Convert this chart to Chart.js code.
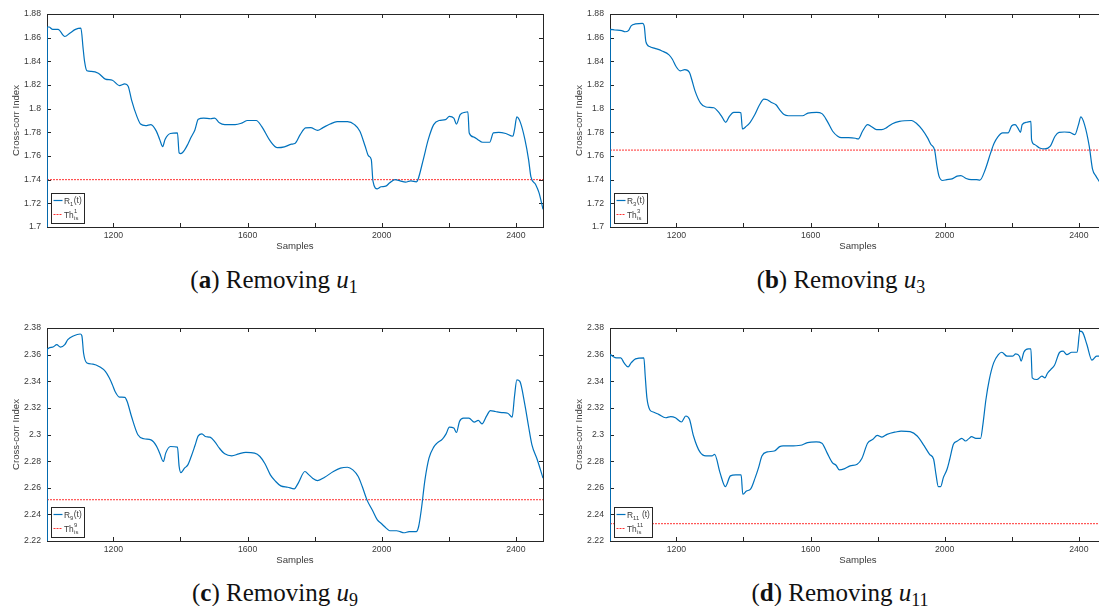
<!DOCTYPE html>
<html>
<head>
<meta charset="utf-8">
<script src="https://cdn.jsdelivr.net/npm/chart.js@4.4.1/dist/chart.umd.min.js"></script>
<style>
html, body { margin:0; padding:0; background:#fff; overflow:hidden; width:1099px; height:606px; }
.panel { position:absolute; }
.cap { position:absolute; font-family:"Liberation Serif", serif; font-size:25px; line-height:25px; color:#111; white-space:nowrap; transform:translateX(-50%); }
.cap sub { font-size:0.72em; vertical-align:-0.28em; line-height:0; }
</style>
</head>
<body>
<canvas id="chartA" class="panel" width="560" height="253" style="left:0px;top:0px"></canvas>
<canvas id="chartB" class="panel" width="560" height="253" style="left:563px;top:0px"></canvas>
<canvas id="chartC" class="panel" width="560" height="253" style="left:0px;top:314px"></canvas>
<canvas id="chartD" class="panel" width="560" height="253" style="left:563px;top:314px"></canvas>

<div class="cap" style="left:274px;top:267px">(<b>a</b>) Removing <i>u</i><sub>1</sub></div>
<div class="cap" style="left:841px;top:267px">(<b>b</b>) Removing <i>u</i><sub>3</sub></div>
<div class="cap" style="left:275px;top:580px">(<b>c</b>) Removing <i>u</i><sub>9</sub></div>
<div class="cap" style="left:840px;top:580px">(<b>d</b>) Removing <i>u</i><sub>11</sub></div>

<script>
// sample window shown on every x axis
const sampleMin = 1002;
const sampleMax = 2481;
const sampleLabels = [1200, 1600, 2000, 2400];

// cross-corr index R_k(t) as [sample, value]
const corrU1 = [[1002,0],[1003,1.869],[1008,1.869],[1019,1.867],[1035,1.867],[1055,1.861],[1071,1.864],[1087,1.867],[1103,1.868],[1110,1.850],[1114,1.840],[1121,1.832],[1134,1.8315],[1155,1.830],[1176,1.825],[1197,1.824],[1218,1.8195],[1234,1.821],[1244,1.819],[1254,1.8075],[1270,1.7935],[1281,1.787],[1296,1.7856],[1312,1.7865],[1328,1.781],[1338,1.774],[1347,1.768],[1354,1.774],[1370,1.779],[1391,1.7795],[1396,1.7626],[1401,1.762],[1412,1.765],[1422,1.770],[1432,1.776],[1443,1.782],[1453,1.791],[1469,1.792],[1490,1.7915],[1502,1.792],[1516,1.788],[1532,1.7865],[1563,1.7865],[1584,1.788],[1600,1.790],[1626,1.790],[1642,1.785],[1668,1.7725],[1689,1.767],[1710,1.7677],[1731,1.770],[1741,1.7705],[1757,1.778],[1773,1.7837],[1788,1.784],[1809,1.7817],[1825,1.784],[1846,1.787],[1867,1.789],[1898,1.789],[1919,1.7865],[1935,1.781],[1951,1.768],[1961,1.760],[1969,1.757],[1974,1.7388],[1987,1.7323],[1998,1.734],[2012,1.7345],[2024,1.7373],[2040,1.740],[2055,1.739],[2071,1.7379],[2087,1.739],[2103,1.7382],[2108,1.740],[2124,1.757],[2139,1.774],[2155,1.7865],[2171,1.790],[2190,1.7907],[2202,1.7935],[2215,1.792],[2223,1.787],[2234,1.795],[2249,1.797],[2257,1.7974],[2261,1.7795],[2275,1.776],[2286,1.774],[2301,1.7716],[2322,1.7716],[2333,1.7795],[2349,1.780],[2370,1.779],[2391,1.7767],[2396,1.782],[2403,1.793],[2414,1.788],[2427,1.774],[2438,1.757],[2445,1.7424],[2459,1.736],[2469,1.729],[2481,1.715]];
const corrU3 = [[1002,0],[1003,1.867],[1016,1.8665],[1037,1.866],[1047,1.865],[1057,1.866],[1065,1.870],[1078,1.8716],[1099,1.872],[1104,1.870],[1109,1.8567],[1120,1.8525],[1136,1.851],[1157,1.8488],[1178,1.8455],[1188,1.8418],[1199,1.8356],[1211,1.832],[1225,1.833],[1239,1.8306],[1246,1.8244],[1256,1.8146],[1272,1.8047],[1288,1.8014],[1312,1.8008],[1324,1.7977],[1335,1.7935],[1347,1.7885],[1358,1.7935],[1371,1.7969],[1387,1.7969],[1392,1.7965],[1397,1.7828],[1408,1.785],[1420,1.7885],[1434,1.795],[1448,1.8033],[1461,1.808],[1471,1.8075],[1481,1.8056],[1497,1.8033],[1508,1.799],[1521,1.795],[1534,1.794],[1555,1.794],[1576,1.794],[1592,1.7963],[1618,1.7969],[1634,1.7958],[1650,1.7893],[1666,1.7809],[1681,1.7767],[1692,1.7755],[1713,1.7755],[1734,1.775],[1742,1.7744],[1755,1.7809],[1770,1.7865],[1781,1.785],[1797,1.7823],[1812,1.7823],[1828,1.7842],[1844,1.7873],[1865,1.7893],[1901,1.790],[1917,1.7873],[1933,1.7823],[1949,1.7753],[1959,1.7697],[1970,1.765],[1977,1.7514],[1983,1.743],[1994,1.7393],[2006,1.740],[2022,1.7407],[2037,1.743],[2048,1.7435],[2064,1.741],[2079,1.740],[2095,1.740],[2105,1.7396],[2121,1.7486],[2137,1.7626],[2147,1.7705],[2158,1.776],[2173,1.7795],[2189,1.7795],[2200,1.7856],[2210,1.7865],[2218,1.7837],[2226,1.780],[2231,1.7865],[2245,1.7885],[2257,1.7893],[2259,1.7739],[2268,1.7697],[2283,1.7668],[2299,1.766],[2315,1.7683],[2329,1.7767],[2341,1.780],[2357,1.7803],[2373,1.780],[2388,1.778],[2399,1.7865],[2406,1.793],[2417,1.7865],[2431,1.7683],[2441,1.7486],[2451,1.743],[2462,1.738],[2472,1.733],[2481,1.728]];
const corrU9 = [[1002,0],[1003,2.3642],[1019,2.3657],[1031,2.3675],[1042,2.3657],[1055,2.3675],[1064,2.3712],[1082,2.3742],[1101,2.3755],[1106,2.3742],[1111,2.3612],[1121,2.3537],[1139,2.3529],[1160,2.3507],[1176,2.3474],[1188,2.3424],[1197,2.3374],[1205,2.3323],[1218,2.3281],[1234,2.3279],[1241,2.3248],[1254,2.3135],[1273,2.2998],[1291,2.2968],[1312,2.296],[1328,2.2915],[1338,2.286],[1349,2.2797],[1356,2.286],[1370,2.291],[1391,2.2905],[1396,2.276],[1401,2.2714],[1412,2.2747],[1422,2.2772],[1432,2.2835],[1443,2.2915],[1453,2.299],[1464,2.3005],[1474,2.2985],[1488,2.298],[1502,2.2947],[1516,2.2897],[1532,2.2855],[1553,2.284],[1574,2.2855],[1595,2.2865],[1621,2.286],[1637,2.2835],[1652,2.278],[1668,2.2697],[1684,2.2647],[1699,2.2614],[1720,2.2604],[1739,2.2592],[1752,2.2639],[1771,2.2722],[1783,2.2697],[1794,2.2672],[1809,2.2654],[1830,2.2679],[1856,2.2722],[1877,2.2747],[1898,2.2754],[1914,2.2734],[1930,2.2684],[1942,2.2609],[1956,2.2509],[1972,2.2433],[1987,2.2358],[1998,2.2333],[2014,2.2295],[2024,2.2277],[2045,2.2277],[2055,2.227],[2066,2.2262],[2082,2.227],[2103,2.227],[2110,2.2307],[2118,2.2433],[2129,2.2659],[2141,2.2822],[2155,2.2905],[2165,2.2935],[2181,2.2965],[2192,2.3005],[2202,2.3055],[2215,2.3048],[2223,2.3015],[2232,2.3098],[2244,2.3123],[2260,2.3123],[2276,2.3093],[2288,2.3106],[2299,2.308],[2313,2.314],[2324,2.318],[2339,2.3173],[2358,2.3165],[2376,2.316],[2389,2.313],[2396,2.3286],[2403,2.3411],[2412,2.3399],[2427,2.3223],[2438,2.306],[2448,2.2922],[2464,2.281],[2481,2.2672]];
const corrU11 = [[1002,0],[1003,2.36],[1010,2.3588],[1021,2.3576],[1034,2.3576],[1044,2.3538],[1056,2.3508],[1065,2.3538],[1078,2.3568],[1103,2.3576],[1107,2.3439],[1112,2.3277],[1121,2.3184],[1131,2.3169],[1147,2.3151],[1168,2.3126],[1183,2.3134],[1197,2.3126],[1215,2.3094],[1228,2.3139],[1239,2.3114],[1251,2.2989],[1270,2.2869],[1288,2.2839],[1306,2.2839],[1314,2.2851],[1330,2.2714],[1346,2.2609],[1361,2.2689],[1377,2.2696],[1393,2.2696],[1398,2.2551],[1409,2.2576],[1421,2.2589],[1435,2.2676],[1445,2.2751],[1455,2.2839],[1471,2.2869],[1492,2.2876],[1508,2.2909],[1518,2.2914],[1539,2.2914],[1570,2.2919],[1591,2.2939],[1617,2.2944],[1634,2.2934],[1649,2.2864],[1665,2.2789],[1676,2.2769],[1686,2.2734],[1702,2.2744],[1718,2.2764],[1739,2.2776],[1753,2.2819],[1770,2.2934],[1786,2.2964],[1799,2.2994],[1813,2.2981],[1828,2.3001],[1854,2.3019],[1870,2.3026],[1897,2.3021],[1918,2.2989],[1939,2.2914],[1955,2.2851],[1967,2.2814],[1974,2.2701],[1981,2.2609],[1988,2.2609],[1996,2.2676],[2007,2.2739],[2015,2.2814],[2026,2.2926],[2038,2.2951],[2051,2.2971],[2062,2.2951],[2072,2.2969],[2080,2.2984],[2093,2.2971],[2107,2.2971],[2114,2.3076],[2123,2.3263],[2133,2.3413],[2146,2.3538],[2160,2.36],[2170,2.3618],[2186,2.3588],[2202,2.3588],[2212,2.3605],[2223,2.3588],[2228,2.3551],[2236,2.3618],[2249,2.3643],[2257,2.3643],[2261,2.3426],[2275,2.3413],[2290,2.3438],[2299,2.3426],[2306,2.3458],[2316,2.3488],[2327,2.3518],[2343,2.3618],[2353,2.3626],[2364,2.36],[2379,2.3618],[2395,2.3618],[2403,2.3776],[2411,2.3768],[2424,2.3676],[2439,2.3558],[2453,2.3588],[2463,2.3588],[2481,2.358]];

// thresholds Th_is^k
const thU1 = 1.740;
const thU3 = 1.765;
const thU9 = 2.251;
const thU11 = 2.233;

// y ranges
const yRangeTop = [1.70, 1.88];
const yRangeBottom = [2.22, 2.38];

const axisColor = '#262626';
const textColor = '#3a3a3a';
const fontFam = '"Liberation Sans", Arial, sans-serif';

// matlab style box, inward ticks and the small legend
const matlabBox = {
  id: 'matlabBox',
  beforeDatasetsDraw(chart) {
    const ctx = chart.ctx, a = chart.chartArea;
    const xs = chart.scales.x, ys = chart.scales.y;
    ctx.save();
    ctx.strokeStyle = axisColor;
    ctx.lineWidth = 1;
    ctx.beginPath();
    xs.ticks.forEach(function (t) {
      const px = Math.round(xs.getPixelForValue(t.value)) + 0.5;
      ctx.moveTo(px, a.bottom); ctx.lineTo(px, a.bottom - 4);
      ctx.moveTo(px, a.top); ctx.lineTo(px, a.top + 4);
    });
    ys.ticks.forEach(function (t) {
      const py = Math.round(ys.getPixelForValue(t.value)) + 0.5;
      ctx.moveTo(a.left, py); ctx.lineTo(a.left + 4, py);
      ctx.moveTo(a.right, py); ctx.lineTo(a.right - 4, py);
    });
    ctx.stroke();
    ctx.strokeRect(Math.round(a.left) + 0.5, Math.round(a.top) + 0.5,
      Math.round(a.right - a.left), Math.round(a.bottom - a.top));
    ctx.restore();
  },
  afterDraw(chart, args, opts) {
    const ctx = chart.ctx, a = chart.chartArea;
    const big = '8.4px ' + fontFam, small = '5.9px ' + fontFam;
    ctx.save();
    ctx.font = big;
    const wR = ctx.measureText('R').width, wT = ctx.measureText(opts.after).width;
    const wTh = ctx.measureText('Th').width;
    ctx.font = small;
    const wSub = ctx.measureText(opts.sub).width;
    const wSup = Math.max(ctx.measureText(opts.sup).width, ctx.measureText('is').width);
    const textW = Math.max(wR + wSub + wT + 0.5, wTh + wSup);
    const w = Math.round(12.5 + textW + 3), h = 30;
    const left = Math.round(a.left) + 4.5, top = Math.round(a.bottom - 4.5 - h) + 0.5;
    ctx.fillStyle = '#fff';
    ctx.fillRect(left, top, w, h);
    ctx.strokeStyle = axisColor;
    ctx.lineWidth = 1;
    ctx.strokeRect(left, top, w, h);

    const row1 = top + 7, row2 = top + 21;
    ctx.lineWidth = 1.2;
    ctx.strokeStyle = '#0072bd';
    ctx.beginPath(); ctx.moveTo(left + 2, row1); ctx.lineTo(left + 11, row1); ctx.stroke();
    ctx.lineWidth = 1;
    ctx.strokeStyle = '#ff3030';
    ctx.setLineDash([2, 1]);
    ctx.beginPath(); ctx.moveTo(left + 2, row2); ctx.lineTo(left + 11, row2); ctx.stroke();
    ctx.setLineDash([]);

    ctx.fillStyle = textColor;
    ctx.textBaseline = 'alphabetic';
    let tx = left + 12.5;
    ctx.font = big;
    ctx.fillText('R', tx, row1 + 3);
    ctx.font = small;
    ctx.fillText(opts.sub, tx + wR, row1 + 5);
    ctx.font = big;
    ctx.fillText(opts.after, tx + wR + wSub + 0.5, row1 + 2.8);
    ctx.fillText('Th', tx, row2 + 3);
    ctx.font = small;
    ctx.fillText(opts.sup, tx + wTh + 0.3, row2 - 1.3);
    ctx.fillText('is', tx + wTh + 0.3, row2 + 5.2);
    ctx.restore();
  }
};

function makeChart(id, points, th, yRange, sub, after) {
  return new Chart(document.getElementById(id), {
    type: 'line',
    data: {
      datasets: [
        {
          data: points.map(function (p) { return { x: p[0], y: p[1] }; }),
          borderColor: '#0072bd',
          borderWidth: 1.2,
          pointRadius: 0,
          cubicInterpolationMode: 'monotone'
        },
        {
          data: [{ x: sampleMin, y: th }, { x: sampleMax, y: th }],
          borderColor: '#ff3030',
          borderWidth: 1,
          borderDash: [2, 1],
          pointRadius: 0
        }
      ]
    },
    options: {
      responsive: false,
      animation: false,
      devicePixelRatio: 1,
      layout: { padding: { left: 0, top: 14, right: 17, bottom: 0 } },
      plugins: {
        legend: { display: false },
        tooltip: { enabled: false },
        matlabBox: { sub: sub, sup: sub, after: after }
      },
      scales: {
        x: {
          type: 'linear',
          min: sampleMin,
          max: sampleMax,
          afterFit: function (s) { s.height = 26; },
          afterBuildTicks: function (s) {
            s.ticks = s.ticks.filter(function (t) { return t.value % 200 === 0; });
          },
          grid: { display: false, drawTicks: false },
          border: { display: false },
          ticks: {
            stepSize: 200,
            includeBounds: false,
            autoSkip: false,
            maxRotation: 0,
            padding: 3,
            color: textColor,
            font: { family: fontFam, size: 8.7 },
            callback: function (v) { return sampleLabels.indexOf(v) >= 0 ? String(v) : ''; }
          },
          title: {
            display: true,
            text: 'Samples',
            color: textColor,
            font: { family: fontFam, size: 9.6 },
            padding: { top: 0, bottom: 0.5 }
          }
        },
        y: {
          min: yRange[0],
          max: yRange[1],
          afterFit: function (s) { s.width = 47; },
          grid: { display: false, drawTicks: false },
          border: { display: false },
          ticks: {
            stepSize: 0.02,
            padding: 6,
            color: textColor,
            font: { family: fontFam, size: 8.7 },
            callback: function (v) { return String(+v.toFixed(2)); }
          },
          title: {
            display: true,
            text: 'Cross-corr Index',
            color: textColor,
            font: { family: fontFam, size: 9.6 },
            padding: { top: 11, bottom: 0 }
          }
        }
      }
    },
    plugins: [matlabBox]
  });
}

makeChart('chartA', corrU1, thU1, yRangeTop, '1', '(t)');
makeChart('chartB', corrU3, thU3, yRangeTop, '3', '(t)');
makeChart('chartC', corrU9, thU9, yRangeBottom, '9', '(t)');
makeChart('chartD', corrU11, thU11, yRangeBottom, '11', ' (t)');
</script>
</body>
</html>
